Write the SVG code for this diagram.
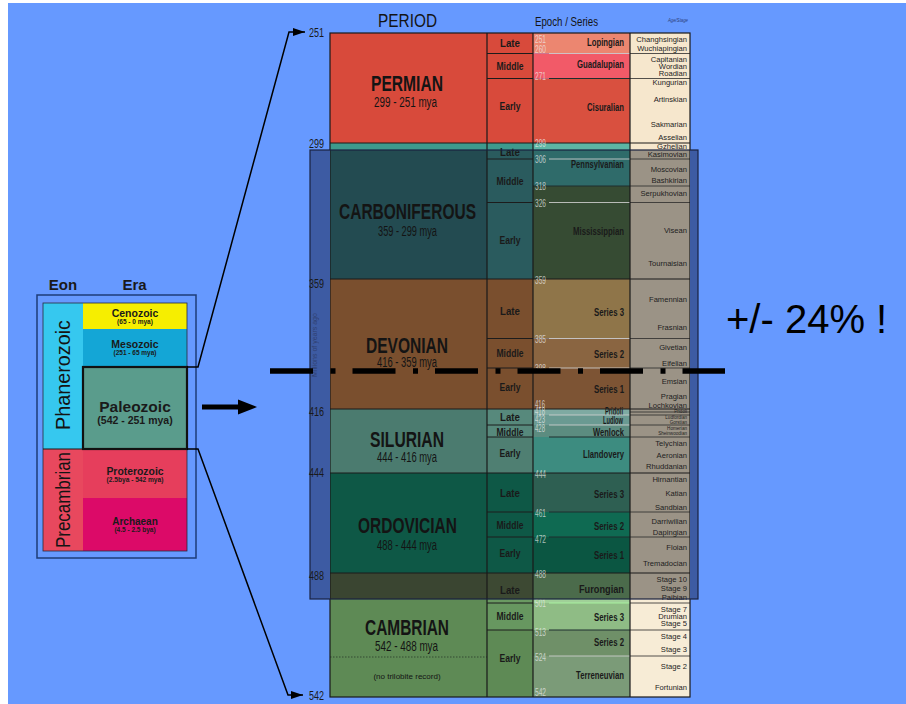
<svg xmlns="http://www.w3.org/2000/svg" width="906" height="704" viewBox="0 0 906 704">
<defs>
<style>
text{font-family:"Liberation Sans",Arial,sans-serif;fill:#141414}
.per{font-weight:bold;font-size:22px;text-anchor:middle}
.mya{font-size:14px;text-anchor:middle}
.sub{font-weight:bold;font-size:11.5px;text-anchor:middle;fill:#1a1a1a}
.ep{font-weight:bold;font-size:11px;text-anchor:end;fill:#1a1a1a}
.st{font-size:7.6px;text-anchor:end;fill:#1e1e1e}
.sts{font-size:4.6px;text-anchor:end;fill:#1e1e1e}
.num{font-size:10.5px;fill:#ececec;fill-opacity:.72}
.ax{font-size:12px;fill:#1a1a1a}
.eb{font-weight:bold;text-anchor:middle;fill:#1a1a1a}
.dk{stroke:#1c1c1c;stroke-width:1;fill:none}
.lt{stroke:#d0d0d0;stroke-opacity:.85;stroke-width:1}
.dl{stroke:#1e2e2e;stroke-width:1}
.sl{stroke:#2a2a2a;stroke-width:.8}
.band{fill:#3d5ba3}
</style>
<marker id="ah" markerUnits="userSpaceOnUse" markerWidth="14" markerHeight="10" refX="12" refY="4" orient="auto"><path d="M0,0 L12,4 L0,8 Z" fill="#000"/></marker>
</defs>

<rect x="0" y="0" width="906" height="704" fill="#ffffff"/>
<rect x="8" y="3" width="898" height="701" fill="#6699ff"/>

<!-- Left Eon / Era panel -->
<g id="eon-era-panel">
  <text x="63" y="290" class="eb" font-size="15">Eon</text>
  <text x="134.5" y="290" class="eb" font-size="15">Era</text>
  <rect x="37" y="295" width="159" height="263" fill="#6699ff" stroke="#1e3c78" stroke-width="1.5"/>
  <g id="eon-phanerozoic">
    <rect x="43" y="303" width="40" height="146" fill="#36c8ef"/>
    <text transform="translate(70,375) rotate(-90)" font-size="20" text-anchor="middle" textLength="110" lengthAdjust="spacingAndGlyphs">Phanerozoic</text>
  </g>
  <g id="eon-precambrian">
    <rect x="43" y="449" width="40" height="102" fill="#e8485e"/>
    <text transform="translate(70,500) rotate(-90)" font-size="20" text-anchor="middle" textLength="96" lengthAdjust="spacingAndGlyphs">Precambrian</text>
  </g>
  <g id="era-cenozoic">
    <rect x="83" y="303" width="104" height="26" fill="#f6ee00"/>
    <text x="135" y="317" class="eb" font-size="10.5">Cenozoic</text>
    <text x="135" y="324" class="eb" font-size="6.5">(65 - 0 mya)</text>
  </g>
  <g id="era-mesozoic">
    <rect x="83" y="329" width="104" height="38" fill="#14a6d6"/>
    <text x="135" y="348" class="eb" font-size="10.5">Mesozoic</text>
    <text x="135" y="355" class="eb" font-size="6.5">(251 - 65 mya)</text>
  </g>
  <g id="era-proterozoic">
    <rect x="83" y="449" width="104" height="49" fill="#e63e5c"/>
    <text x="135" y="475" class="eb" font-size="10.4">Proterozoic</text>
    <text x="135" y="482" class="eb" font-size="6.6">(2.5bya - 542 mya)</text>
  </g>
  <g id="era-archaean">
    <rect x="83" y="498" width="104" height="53" fill="#dc0a68"/>
    <text x="135" y="525" class="eb" font-size="10">Archaean</text>
    <text x="135" y="532" class="eb" font-size="6.5">(4.5 - 2.5 bya)</text>
  </g>
  <rect x="43" y="303" width="144" height="248" fill="none" stroke="#2a2a3a" stroke-width="0.8"/>
  <line x1="43" y1="449" x2="83" y2="449" stroke="#1a1a1a" stroke-width="1.2"/>
  <g id="era-paleozoic">
    <rect x="83" y="367" width="104" height="82" fill="#5a9c8c" stroke="#111" stroke-width="2.2"/>
    <text x="135" y="412" class="eb" font-size="15.5">Paleozoic</text>
    <text x="135" y="424" class="eb" font-size="10.5">(542 - 251 mya)</text>
  </g>
</g>

<!-- Geologic column -->
<g id="chart">
  <g id="period-permian">
    <rect x="330" y="33" width="157" height="110" fill="#d84a3b"/>
    <rect x="487" y="33" width="46" height="110" fill="#d84a3b"/>
    <rect x="533" y="33" width="97" height="20.5" fill="#ec8670"/>
    <rect x="533" y="53.5" width="97" height="25" fill="#f25a68"/>
    <rect x="533" y="78.5" width="97" height="64.5" fill="#d9503f"/>
    <rect x="630" y="33" width="60" height="117" fill="#f6e7cd"/>
    <text x="407" y="91" class="per" font-size="23" textLength="72" lengthAdjust="spacingAndGlyphs">PERMIAN</text>
    <text x="405.5" y="107" class="mya" textLength="63" lengthAdjust="spacingAndGlyphs">299 - 251 mya</text>
    <text x="510" y="47" class="sub" textLength="20" lengthAdjust="spacingAndGlyphs">Late</text>
    <text x="510" y="70" class="sub" textLength="27" lengthAdjust="spacingAndGlyphs">Middle</text>
    <text x="510" y="110" class="sub" textLength="21" lengthAdjust="spacingAndGlyphs">Early</text>
    <text x="624" y="46" class="ep" textLength="37" lengthAdjust="spacingAndGlyphs">Lopingian</text>
    <text x="624" y="68" class="ep" textLength="47" lengthAdjust="spacingAndGlyphs">Guadalupian</text>
    <text x="624" y="111" class="ep" textLength="37" lengthAdjust="spacingAndGlyphs">Cisuralian</text>
    <text x="687" y="42" class="st">Changhsingian</text>
    <text x="687" y="51" class="st">Wuchiapingian</text>
    <text x="687" y="62" class="st">Capitanian</text>
    <text x="687" y="69" class="st">Wordian</text>
    <text x="687" y="76" class="st">Roadian</text>
    <text x="687" y="85" class="st">Kungurian</text>
    <text x="687" y="102" class="st">Artinskian</text>
    <text x="687" y="127" class="st">Sakmarian</text>
    <text x="687" y="140" class="st">Asselian</text>
  </g>
  <g id="period-carboniferous">
    <rect x="330" y="143" width="157" height="7" fill="#3e9a8d"/>
    <rect x="330" y="150" width="157" height="129" fill="#234b51"/>
    <rect x="487" y="143" width="46" height="7" fill="#3e9a8d"/>
    <rect x="487" y="150" width="46" height="129" fill="#2a5b5e"/>
    <rect x="533" y="143" width="97" height="7" fill="#5db5a4"/>
    <rect x="533" y="150" width="97" height="36" fill="#2f6b6a"/>
    <rect x="533" y="186" width="97" height="93" fill="#364b33"/>
    <rect x="630" y="150" width="60" height="449" fill="#9b9386"/>
    <text x="407.5" y="219" class="per" textLength="137" lengthAdjust="spacingAndGlyphs">CARBONIFEROUS</text>
    <text x="407.5" y="236" class="mya" textLength="59" lengthAdjust="spacingAndGlyphs">359 - 299 mya</text>
    <text x="510" y="156" class="sub" textLength="20" lengthAdjust="spacingAndGlyphs">Late</text>
    <text x="510" y="185" class="sub" textLength="27" lengthAdjust="spacingAndGlyphs">Middle</text>
    <text x="510" y="244" class="sub" textLength="21" lengthAdjust="spacingAndGlyphs">Early</text>
    <text x="624" y="168" class="ep" textLength="53" lengthAdjust="spacingAndGlyphs">Pennsylvanian</text>
    <text x="624" y="235" class="ep" textLength="51" lengthAdjust="spacingAndGlyphs">Mississippian</text>
    <text x="687" y="149" class="st">Gzhelian</text>
    <text x="687" y="157" class="st">Kasimovian</text>
    <text x="687" y="172" class="st">Moscovian</text>
    <text x="687" y="183" class="st">Bashkirian</text>
    <text x="687" y="196" class="st">Serpukhovian</text>
    <text x="687" y="233" class="st">Visean</text>
    <text x="687" y="266" class="st">Tournaisian</text>
  </g>
  <g id="period-devonian">
    <rect x="330" y="279" width="157" height="130" fill="#7a4f2e"/>
    <rect x="487" y="279" width="46" height="130" fill="#7a4f2e"/>
    <rect x="533" y="279" width="97" height="59.5" fill="#8f7549"/>
    <rect x="533" y="338.5" width="97" height="29.5" fill="#8a6541"/>
    <rect x="533" y="368" width="97" height="41" fill="#7d5434"/>
    <text x="407" y="353" class="per" textLength="82" lengthAdjust="spacingAndGlyphs">DEVONIAN</text>
    <text x="407" y="367" class="mya" textLength="60" lengthAdjust="spacingAndGlyphs">416 - 359 mya</text>
    <text x="510" y="315" class="sub" textLength="20" lengthAdjust="spacingAndGlyphs">Late</text>
    <text x="510" y="357" class="sub" textLength="27" lengthAdjust="spacingAndGlyphs">Middle</text>
    <text x="510" y="391" class="sub" textLength="21" lengthAdjust="spacingAndGlyphs">Early</text>
    <text x="624" y="316" class="ep" textLength="30" lengthAdjust="spacingAndGlyphs">Series 3</text>
    <text x="624" y="358" class="ep" textLength="30" lengthAdjust="spacingAndGlyphs">Series 2</text>
    <text x="624" y="393" class="ep" textLength="30" lengthAdjust="spacingAndGlyphs">Series 1</text>
    <text x="687" y="302" class="st">Famennian</text>
    <text x="687" y="330" class="st">Frasnian</text>
    <text x="687" y="350" class="st">Givetian</text>
    <text x="687" y="366" class="st">Eifelian</text>
    <text x="687" y="384" class="st">Emsian</text>
    <text x="687" y="399" class="st">Pragian</text>
    <text x="687" y="408" class="st">Lochkovian</text>
  </g>
  <g id="period-silurian">
    <rect x="330" y="409" width="157" height="64" fill="#4b7b6f"/>
    <rect x="487" y="409" width="46" height="28" fill="#57897c"/>
    <rect x="487" y="437" width="46" height="36" fill="#4f7f72"/>
    <rect x="533" y="409" width="97" height="6" fill="#7eaaa2"/>
    <rect x="533" y="415" width="97" height="10" fill="#6a9a92"/>
    <rect x="533" y="425" width="97" height="12" fill="#5c8c80"/>
    <rect x="533" y="437" width="97" height="36" fill="#3d8c80"/>
    <text x="407" y="447" class="per" textLength="74" lengthAdjust="spacingAndGlyphs">SILURIAN</text>
    <text x="407" y="462" class="mya" textLength="60" lengthAdjust="spacingAndGlyphs">444 - 416 mya</text>
    <text x="510" y="421" class="sub" font-size="10" textLength="20" lengthAdjust="spacingAndGlyphs">Late</text>
    <text x="510" y="436" class="sub" font-size="10" textLength="27" lengthAdjust="spacingAndGlyphs">Middle</text>
    <text x="510" y="457" class="sub" textLength="21" lengthAdjust="spacingAndGlyphs">Early</text>
    <text x="623" y="415" class="ep" font-size="8" textLength="18" lengthAdjust="spacingAndGlyphs">Pridoli</text>
    <text x="623" y="424" class="ep" font-size="9" textLength="20" lengthAdjust="spacingAndGlyphs">Ludlow</text>
    <text x="624" y="435.5" class="ep" font-size="10.5" textLength="31" lengthAdjust="spacingAndGlyphs">Wenlock</text>
    <text x="624" y="458" class="ep" textLength="41" lengthAdjust="spacingAndGlyphs">Llandovery</text>
    <text x="687" y="413" class="sts">Pridoli</text>
    <text x="687" y="418.5" class="sts">Ludfordian</text>
    <text x="687" y="423.5" class="sts">Gorstian</text>
    <text x="687" y="430" class="sts">Homerian</text>
    <text x="687" y="435" class="sts">Sheinwoodian</text>
    <text x="687" y="446" class="st">Telychian</text>
    <text x="687" y="458" class="st">Aeronian</text>
    <text x="687" y="469" class="st">Rhuddanian</text>
  </g>
  <g id="period-ordovician">
    <rect x="330" y="473" width="157" height="100" fill="#0e5846"/>
    <rect x="487" y="473" width="46" height="100" fill="#0e5846"/>
    <rect x="533" y="473" width="97" height="39" fill="#2e5f52"/>
    <rect x="533" y="512" width="97" height="25" fill="#0f6a52"/>
    <rect x="533" y="537" width="97" height="36" fill="#0b5642"/>
    <text x="407.5" y="533" class="per" font-size="21" textLength="99" lengthAdjust="spacingAndGlyphs">ORDOVICIAN</text>
    <text x="407" y="550" class="mya" textLength="60" lengthAdjust="spacingAndGlyphs">488 - 444 mya</text>
    <text x="510" y="497" class="sub" textLength="20" lengthAdjust="spacingAndGlyphs">Late</text>
    <text x="510" y="529" class="sub" textLength="27" lengthAdjust="spacingAndGlyphs">Middle</text>
    <text x="510" y="557" class="sub" textLength="21" lengthAdjust="spacingAndGlyphs">Early</text>
    <text x="624" y="498" class="ep" textLength="30" lengthAdjust="spacingAndGlyphs">Series 3</text>
    <text x="624" y="530" class="ep" textLength="30" lengthAdjust="spacingAndGlyphs">Series 2</text>
    <text x="624" y="559" class="ep" textLength="30" lengthAdjust="spacingAndGlyphs">Series 1</text>
    <text x="687" y="482" class="st">Hirnantian</text>
    <text x="687" y="496" class="st">Katian</text>
    <text x="687" y="510" class="st">Sandbian</text>
    <text x="687" y="524" class="st">Darriwilian</text>
    <text x="687" y="535" class="st">Dapingian</text>
    <text x="687" y="550" class="st">Floian</text>
    <text x="687" y="566" class="st">Tremadocian</text>
  </g>
  <g id="period-cambrian">
    <rect x="330" y="573" width="157" height="26" fill="#3a4531"/>
    <rect x="330" y="599" width="157" height="98" fill="#5e8a55"/>
    <rect x="487" y="573" width="46" height="26" fill="#3d4933"/>
    <rect x="487" y="599" width="46" height="4" fill="#6a9a62"/>
    <rect x="487" y="603" width="46" height="27" fill="#679760"/>
    <rect x="487" y="630" width="46" height="67" fill="#5e8a55"/>
    <rect x="533" y="573" width="97" height="26" fill="#4b6b4b"/>
    <rect x="533" y="599" width="97" height="4" fill="#a0d098"/>
    <rect x="533" y="603" width="97" height="27" fill="#8fbc85"/>
    <rect x="533" y="630" width="97" height="26" fill="#6f9068"/>
    <rect x="533" y="656" width="97" height="41" fill="#7b9b78"/>
    <rect x="630" y="599" width="60" height="98" fill="#f7ecd6"/>
    <line x1="330" y1="657" x2="487" y2="657" stroke="#2a3a2a" stroke-width="0.8" stroke-dasharray="1.5 1.5"/>
    <text x="407" y="635" class="per" textLength="84" lengthAdjust="spacingAndGlyphs">CAMBRIAN</text>
    <text x="406.5" y="651" class="mya" font-size="13.5" textLength="63" lengthAdjust="spacingAndGlyphs">542 - 488 mya</text>
    <text x="407" y="679" font-size="8" text-anchor="middle">(no trilobite record)</text>
    <text x="510" y="594" class="sub" textLength="20" lengthAdjust="spacingAndGlyphs">Late</text>
    <text x="510" y="620" class="sub" textLength="27" lengthAdjust="spacingAndGlyphs">Middle</text>
    <text x="510" y="662" class="sub" textLength="21" lengthAdjust="spacingAndGlyphs">Early</text>
    <text x="624" y="593" class="ep" textLength="45" lengthAdjust="spacingAndGlyphs">Furongian</text>
    <text x="624" y="621" class="ep" textLength="30" lengthAdjust="spacingAndGlyphs">Series 3</text>
    <text x="624" y="646" class="ep" textLength="30" lengthAdjust="spacingAndGlyphs">Series 2</text>
    <text x="624" y="679" class="ep" textLength="48" lengthAdjust="spacingAndGlyphs">Terreneuvian</text>
    <text x="687" y="582" class="st">Stage 10</text>
    <text x="687" y="591" class="st">Stage 9</text>
    <text x="687" y="600" class="st">Paibian</text>
    <text x="687" y="611.5" class="st" font-size="7">Stage 7</text>
    <text x="687" y="618.5" class="st" font-size="7">Drumian</text>
    <text x="687" y="626" class="st" font-size="7">Stage 5</text>
    <text x="687" y="639" class="st">Stage 4</text>
    <text x="687" y="652" class="st">Stage 3</text>
    <text x="687" y="669" class="st">Stage 2</text>
    <text x="687" y="690" class="st">Fortunian</text>
  </g>

  <g id="chart-lines">
    <g class="dk">
      <path d="M487,53.5H533M487,78.5H533M487,159H533M487,202.5H533M487,338.5H533M487,368H533M487,425H533M487,437H533M487,512H533M487,537H533M487,603H533M487,630H533"/>
    </g>
    <path class="lt" d="M549,53.5H630M549,159H630M549,202.5H630M549,338.5H630M549,368H630M549,415H630M549,425H630M549,656H630"/>
    <path class="dl" d="M549,78.5H630M533,186H630M549,437H630M549,512H630M549,537H630M549,630H630"/>
    <path stroke="#a8f0a0" stroke-width="1.2" d="M549,603H630"/>
    <path class="sl" d="M630,53.5H690M630,78.5H690M630,159H690M630,186H690M630,202.5H690M630,338.5H690M630,368H690M630,412H690M630,415H690M630,425H690M630,437H690M630,512H690M630,537H690M630,603H690M630,630H690M630,656H690"/>
    <path stroke="#1a1a1a" stroke-width="1.2" d="M330,143H690M330,279H690M330,409H690M330,473H690M330,573H690M487,33V697M533,33V697M630,33V697"/>
    <rect x="330" y="33" width="360" height="664" fill="none" stroke="#1a1a1a" stroke-width="1.2"/>
  </g>

  <g id="epoch-ages">
    <text x="535" y="43" class="num" textLength="11" lengthAdjust="spacingAndGlyphs">251</text>
    <text x="535" y="53" class="num" textLength="11" lengthAdjust="spacingAndGlyphs">260</text>
    <text x="535" y="80" class="num" textLength="11" lengthAdjust="spacingAndGlyphs">271</text>
    <text x="535" y="147" class="num" textLength="11" lengthAdjust="spacingAndGlyphs">299</text>
    <text x="535" y="163" class="num" textLength="11" lengthAdjust="spacingAndGlyphs">306</text>
    <text x="535" y="190" class="num" textLength="11" lengthAdjust="spacingAndGlyphs">318</text>
    <text x="535" y="207" class="num" textLength="11" lengthAdjust="spacingAndGlyphs">326</text>
    <text x="535" y="284" class="num" textLength="11" lengthAdjust="spacingAndGlyphs">359</text>
    <text x="535" y="343" class="num" textLength="11" lengthAdjust="spacingAndGlyphs">385</text>
    <text x="535" y="372" class="num" textLength="11" lengthAdjust="spacingAndGlyphs">398</text>
    <text x="535" y="408" class="num" font-size="6.8" textLength="10" lengthAdjust="spacingAndGlyphs">416</text>
    <text x="535" y="415" class="num" font-size="6.8" textLength="10" lengthAdjust="spacingAndGlyphs">418</text>
    <text x="535" y="423" class="num" font-size="6.8" textLength="10" lengthAdjust="spacingAndGlyphs">423</text>
    <text x="535" y="432" class="num" font-size="6.8" textLength="10" lengthAdjust="spacingAndGlyphs">428</text>
    <text x="535" y="478" class="num" textLength="11" lengthAdjust="spacingAndGlyphs">444</text>
    <text x="535" y="517" class="num" textLength="11" lengthAdjust="spacingAndGlyphs">461</text>
    <text x="535" y="543" class="num" textLength="11" lengthAdjust="spacingAndGlyphs">472</text>
    <text x="535" y="578" class="num" textLength="11" lengthAdjust="spacingAndGlyphs">488</text>
    <text x="535" y="607" class="num" textLength="11" lengthAdjust="spacingAndGlyphs">501</text>
    <text x="535" y="636" class="num" textLength="11" lengthAdjust="spacingAndGlyphs">513</text>
    <text x="535" y="661" class="num" textLength="11" lengthAdjust="spacingAndGlyphs">524</text>
    <text x="535" y="696" class="num" textLength="11" lengthAdjust="spacingAndGlyphs">542</text>
  </g>

  <g id="headers">
    <text x="407.5" y="27" font-size="19" text-anchor="middle" textLength="59" lengthAdjust="spacingAndGlyphs">PERIOD</text>
    <text x="566.5" y="26" font-size="12.5" text-anchor="middle" textLength="63" lengthAdjust="spacingAndGlyphs">Epoch / Series</text>
    <text x="678" y="22" font-size="6" font-style="italic" text-anchor="middle" style="fill:#2c3e7a" textLength="20" lengthAdjust="spacingAndGlyphs">Age/Stage</text>
  </g>
</g>

<!-- Overlay frame (Paleozoic window) -->
<g id="overlay">
  <rect x="310" y="150" width="20" height="449" class="band"/>
  <rect x="690" y="150" width="8" height="449" class="band"/>
  <rect x="310" y="150" width="388" height="449" fill="none" stroke="#1a2240" stroke-width="1.2"/>
  <text transform="translate(317,345) rotate(-90)" font-size="7" text-anchor="middle" style="fill:#2a3358" fill-opacity="0.7">Millions of years ago</text>
</g>

<g id="axis-labels">
  <text x="309" y="37" class="ax" textLength="15" lengthAdjust="spacingAndGlyphs">251</text>
  <text x="309" y="148" class="ax" textLength="15" lengthAdjust="spacingAndGlyphs">299</text>
  <text x="309" y="288" class="ax" textLength="15" lengthAdjust="spacingAndGlyphs">359</text>
  <text x="309" y="416" class="ax" textLength="15" lengthAdjust="spacingAndGlyphs">416</text>
  <text x="309" y="477" class="ax" textLength="15" lengthAdjust="spacingAndGlyphs">444</text>
  <text x="309" y="580" class="ax" textLength="15" lengthAdjust="spacingAndGlyphs">488</text>
  <text x="309" y="700" class="ax" font-size="11.5" textLength="15" lengthAdjust="spacingAndGlyphs">542</text>
</g>

<!-- Connectors -->
<g id="connectors" fill="none" stroke="#000">
  <path d="M187,367 H198 L289,32 H305" stroke-width="1.5" marker-end="url(#ah)"/>
  <path d="M187,449 H198 L288,695 H303" stroke-width="1.5" marker-end="url(#ah)"/>
  <path d="M202,407 H240" stroke-width="5"/>
  <path d="M238,399.5 L257,407 L238,414.5 Z" fill="#000" stroke="none"/>
</g>

<!-- Error-range line and annotation -->
<g id="annotation">
  <line x1="270" y1="371" x2="725" y2="371" stroke="#000" stroke-width="5.5" stroke-dasharray="43 17.5 5 17"/>
  <text x="726" y="333" font-size="40" style="fill:#000">+/- 24% !</text>
</g>
</svg>
